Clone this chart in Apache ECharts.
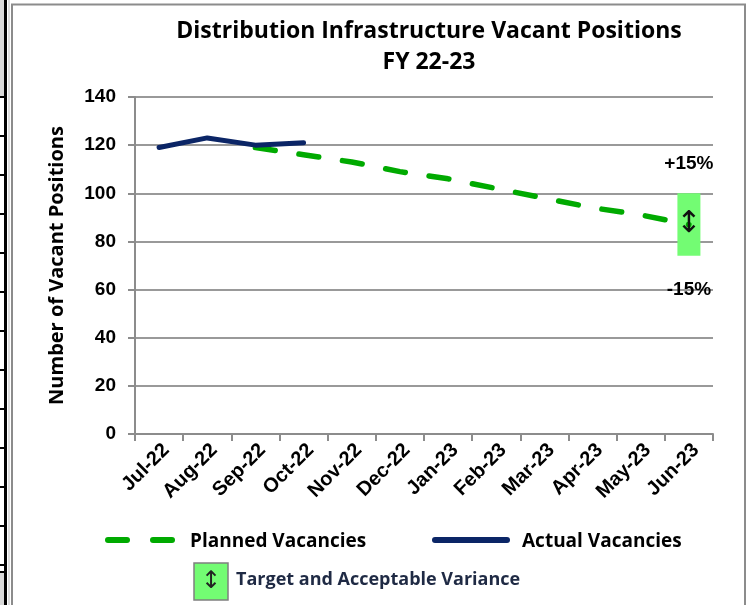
<!DOCTYPE html>
<html><head><meta charset="utf-8">
<script src="https://cdn.jsdelivr.net/npm/echarts@6/dist/echarts.min.js"></script>
<style>html,body{margin:0;padding:0;background:#fff}#c{width:748px;height:605px}</style>
</head><body><div id="c"></div>
<script>
var months = ['Jul-22','Aug-22','Sep-22','Oct-22','Nov-22','Dec-22','Jan-23','Feb-23','Mar-23','Apr-23','May-23','Jun-23'];
var planned = [null, null, 119, 116, 113, 109, 106, 102, 98, 94, 91, 87];
var actual = [119, 123, 120, 121, null, null, null, null, null, null, null, null];
var varianceLow = [null, null, null, null, null, null, null, null, null, null, null, 74];
var varianceHigh = [null, null, null, null, null, null, null, null, null, null, null, 100];
var yTicks = [0, 20, 40, 60, 80, 100, 120, 140];

var varianceSpan = varianceHigh.map(function (v, i) { return v == null ? null : v - varianceLow[i]; });
var CAL = '"Open Sans", Lato, sans-serif';
var ARI = '"Liberation Sans", Arial, sans-serif';

var chart = echarts.init(document.getElementById('c'), null, {renderer: 'canvas'});

var g = [];
g.push({type: 'rect', shape: {x: 0, y: 0, width: 4, height: 97}, style: {fill: '#d9d9d9'}});
g.push({type: 'rect', shape: {x: 0, y: 572, width: 4, height: 40}, style: {fill: '#d9d9d9'}});
g.push({type: 'line', shape: {x1: 5.5, y1: 0, x2: 5.5, y2: 605}, style: {stroke: '#000', lineWidth: 3}});
g.push({type: 'line', shape: {x1: 9, y1: 0, x2: 9, y2: 605}, style: {stroke: '#bbb', lineWidth: 1}});
[97, 136, 175, 214, 253, 292, 331, 370, 409, 448, 487, 526, 565, 572].forEach(function (y) {
  g.push({type: 'line', shape: {x1: 0, y1: y, x2: 5, y2: y}, style: {stroke: '#000', lineWidth: 2}});
});
g.push({type: 'rect', shape: {x: 12, y: 4.5, width: 733, height: 610}, style: {fill: 'none', stroke: '#8c8c8c', lineWidth: 2}});
g.push({type: 'line', shape: {x1: 108, y1: 540, x2: 127, y2: 540}, style: {stroke: '#00aa00', lineWidth: 6, lineCap: 'round'}});
g.push({type: 'line', shape: {x1: 153, y1: 540, x2: 172, y2: 540}, style: {stroke: '#00aa00', lineWidth: 6, lineCap: 'round'}});
g.push({type: 'line', shape: {x1: 435, y1: 540, x2: 507, y2: 540}, style: {stroke: '#0b2566', lineWidth: 6, lineCap: 'round'}});
g.push({type: 'rect', shape: {x: 194, y: 563, width: 34, height: 37}, style: {fill: '#73fc73', stroke: '#7f7f7f', lineWidth: 1.5}});
g.push({type: 'text', x: 211, y: 582, style: {text: '↕', font: '24px "DejaVu Sans"', fill: '#222', align: 'center', verticalAlign: 'middle'}});
g.push({type: 'text', x: 236, y: 580, style: {text: 'Target and Acceptable Variance', font: 'bold 18px ' + CAL, fill: '#1f2a44', verticalAlign: 'middle'}});

var option = {
  animation: false,
  title: {
    text: 'Distribution Infrastructure Vacant Positions\nFY 22-23',
    left: 424, top: 11, textAlign: 'center',
    textStyle: {fontFamily: CAL, fontWeight: 'bold', fontSize: 23, lineHeight: 31, color: '#000'}
  },
  grid: {left: 135, right: 35, top: 97, bottom: 171, containLabel: false},
  legend: [
    {data: ['Planned Vacancies'], left: 180, top: 527, itemWidth: 0, itemHeight: 0, icon: 'none', itemGap: 0,
     textStyle: {fontFamily: CAL, fontWeight: 'bold', fontSize: 19, color: '#000'}},
    {data: ['Actual Vacancies'], left: 512, top: 527, itemWidth: 0, itemHeight: 0, icon: 'none', itemGap: 0,
     textStyle: {fontFamily: CAL, fontWeight: 'bold', fontSize: 19, color: '#000'}}
  ],
  xAxis: {
    type: 'category', data: months, boundaryGap: true,
    axisLine: {lineStyle: {color: '#8c8c8c', width: 2}},
    axisTick: {show: true, length: 7, alignWithLabel: false, lineStyle: {color: '#8c8c8c', width: 2}},
    axisLabel: {rotate: 45, interval: 0, margin: 6, verticalAlign: 'top', fontFamily: ARI, fontWeight: 'bold', fontSize: 20, color: '#000'}
  },
  yAxis: {
    type: 'value', min: 0, max: 140, interval: 20,
    name: 'Number of Vacant Positions', nameLocation: 'middle', nameGap: 68, nameRotate: 90,
    nameTextStyle: {fontFamily: CAL, fontWeight: 'bold', fontSize: 20, color: '#000'},
    axisLine: {show: true, lineStyle: {color: '#8c8c8c', width: 2}},
    axisTick: {show: true, length: 7, lineStyle: {color: '#8c8c8c', width: 2}},
    splitLine: {lineStyle: {color: '#999', width: 2}},
    axisLabel: {margin: 19, fontFamily: ARI, fontWeight: 'bold', fontSize: 19, color: '#000',
      formatter: function (v) { return yTicks.indexOf(v) >= 0 ? String(v) : ''; }}
  },
  series: [
    {name: 'base', type: 'bar', stack: 'var', data: varianceLow, barWidth: 23,
     itemStyle: {color: 'rgba(0,0,0,0)'}, silent: true,
     label: {show: true, position: 'insideTop', distance: 24, formatter: '-15%',
             fontFamily: ARI, fontWeight: 'bold', fontSize: 19, color: '#000'}},
    {name: 'Target and Acceptable Variance', type: 'bar', stack: 'var', data: varianceSpan, barWidth: 23,
     itemStyle: {color: '#73fc73'},
     label: {show: true, position: 'top', distance: 20, formatter: '+15%',
             fontFamily: ARI, fontWeight: 'bold', fontSize: 19, color: '#000'}},
    {name: 'Planned Vacancies', type: 'line', data: planned, symbol: 'none',
     lineStyle: {color: '#00aa00', width: 5.5, type: [20, 24], cap: 'round'}, itemStyle: {color: '#00aa00'}, z: 3},
    {name: 'Actual Vacancies', type: 'line', data: actual, symbol: 'none',
     lineStyle: {color: '#0b2566', width: 5, cap: 'round', join: 'round'}, itemStyle: {color: '#0b2566'}, z: 4}
  ],
  graphic: g
};
chart.setOption(option);

var px = chart.convertToPixel({xAxisIndex: 0, yAxisIndex: 0}, [11, (varianceLow[11] + varianceHigh[11]) / 2]);
chart.setOption({graphic: g.concat([{type: 'text', x: px[0], y: px[1], style: {text: '↕', font: '30px "DejaVu Sans"', fill: '#111', align: 'center', verticalAlign: 'middle'}, z: 10}])});
</script></body></html>
